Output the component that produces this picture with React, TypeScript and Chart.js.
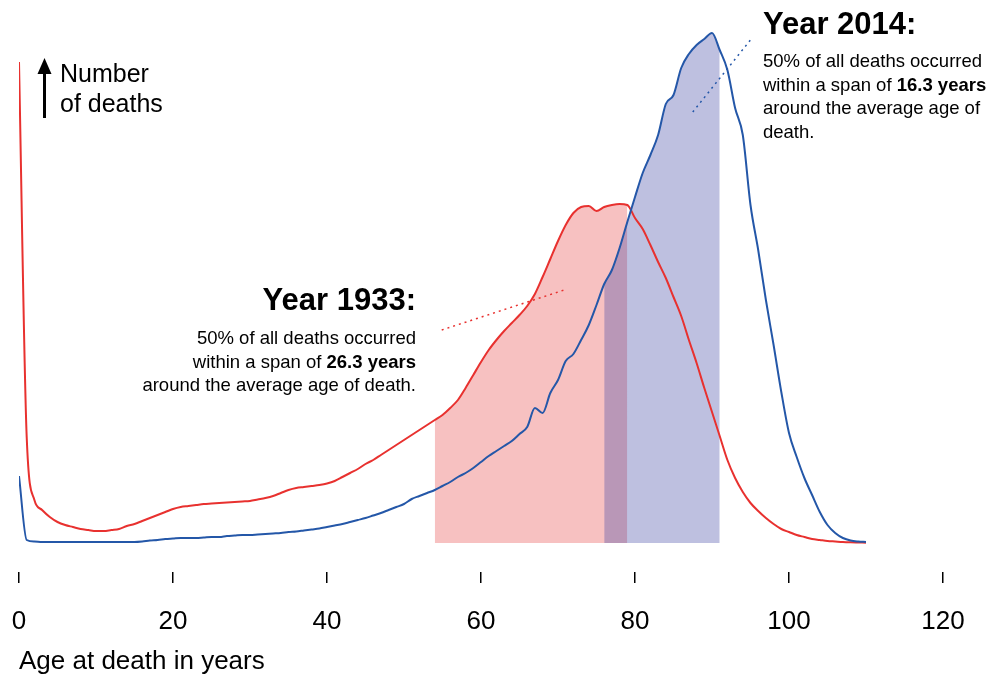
import React, { useEffect, useRef } from "react";
import { Chart, registerables } from "chart.js";

Chart.register(...registerables);

// ---- data (relative number of deaths by age) ----
const ages = [
  0, 1, 2, 3, 4, 5, 6, 7, 8, 9, 10, 11, 12, 13, 14, 15, 16, 17, 18, 19,
  20, 21, 22, 23, 24, 25, 26, 27, 28, 29, 30, 31, 32, 33, 34, 35, 36, 37, 38, 39,
  40, 41, 42, 43, 44, 45, 46, 47, 48, 49, 50, 51, 52, 53, 54, 55, 56, 57, 58, 59,
  60, 61, 62, 63, 64, 65, 66, 67, 68, 69, 70, 71, 72, 73, 74, 75, 76, 77, 78, 79,
  80, 81, 82, 83, 84, 85, 86, 87, 88, 89, 90, 91, 92, 93, 94, 95, 96, 97, 98, 99,
  100, 101, 102, 103, 104, 105, 106, 107, 108, 109, 110,
];

const deaths1933 = [
  481, 106, 43, 33, 26, 21, 18, 16, 14, 13, 12, 12, 13, 14, 17, 19, 22, 25, 28, 31,
  34, 36, 37, 38, 39, 39.5, 40, 40.5, 41, 41.5, 42, 43.5, 45, 47, 50, 53, 55, 56, 57, 58,
  59.5, 62, 66, 70, 74, 79, 83, 88, 93, 98, 103, 108, 113, 118, 123, 128, 135, 143, 155, 168,
  181, 193, 203, 212, 220, 228, 237, 249, 266, 284, 302, 318, 330, 336, 337, 332, 336, 338, 339, 338,
  325, 314, 298, 281, 265, 246, 227, 203, 180, 155, 131, 107, 83, 65, 51, 40, 32, 25, 19, 14,
  11, 8, 6, 4, 3, 2, 1.5, 1, 0.7, 0.5, 0.3,
];

const deaths2014 = [
  67, 3, 1.5, 1, 1, 1, 1, 1, 1, 1, 1, 1, 1, 1, 1, 1, 1.5, 2.5, 3, 4,
  4.5, 5, 5, 5, 5.5, 6, 6, 7, 7.5, 8, 8, 8.5, 9, 9.5, 10, 11, 11.5, 12.5, 13.5, 14.5,
  16, 17.5, 19, 21, 23, 25, 27.5, 30, 33, 36, 39, 44, 47, 50, 53, 57, 61, 66, 70, 75,
  81, 87, 92, 97, 102, 109, 116, 135, 130, 150, 163, 182, 189, 203, 218, 238, 259, 273, 295, 321,
  346, 370, 388, 408, 439, 448, 475, 489, 498, 504, 510, 493, 473, 435, 408, 338, 293, 243, 198, 151,
  110, 86, 65, 48, 31, 18, 10, 5, 2.5, 1.5, 1,
];

// central 50% spans (age from, age to)
const span1933 = [54, 79];
const span2014 = [76, 91];

const xTicks = [0, 20, 40, 60, 80, 100, 120];

// dotted leader lines [age, value]
const leader1933 = [[54.9, 213], [71.2, 254]];
const leader2014 = [[87.5, 431], [95.3, 506]];

const FONT = '"Liberation Sans", Arial, Helvetica, sans-serif';
const RED = "#e8312f";
const BLUE = "#2457a8";

const toPoints = (vals: number[]) => ages.map((a, i) => ({ x: a, y: vals[i] }));
const spanPoints = (vals: number[], span: number[]) =>
  ages
    .map((a, i) => ({ x: a, y: vals[i] }))
    .filter((p) => p.x >= span[0] && p.x <= span[1]);

const decorPlugin = {
  id: "decor",
  afterDatasetsDraw(chart: any) {
    const { ctx, scales } = chart;
    const x = scales.x;
    const y = scales.y;
    const drawLeader = (pts: number[][], color: string) => {
      ctx.save();
      ctx.strokeStyle = color;
      ctx.lineWidth = 1.5;
      ctx.setLineDash([2, 4]);
      ctx.beginPath();
      ctx.moveTo(x.getPixelForValue(pts[0][0]), y.getPixelForValue(pts[0][1]));
      ctx.lineTo(x.getPixelForValue(pts[1][0]), y.getPixelForValue(pts[1][1]));
      ctx.stroke();
      ctx.restore();
    };
    drawLeader(leader1933, RED);
    drawLeader(leader2014, BLUE);
  },
  afterDraw(chart: any) {
    const { ctx } = chart;
    ctx.save();
    ctx.strokeStyle = "#000";
    ctx.fillStyle = "#000";
    ctx.lineWidth = 3;
    ctx.beginPath();
    ctx.moveTo(44.5, 118);
    ctx.lineTo(44.5, 70);
    ctx.stroke();
    ctx.beginPath();
    ctx.moveTo(37.5, 74);
    ctx.lineTo(51.5, 74);
    ctx.lineTo(44.5, 58);
    ctx.closePath();
    ctx.fill();
    ctx.restore();
  },
};

export default function App() {
  const canvasRef = useRef<HTMLCanvasElement | null>(null);

  useEffect(() => {
    const canvas = canvasRef.current;
    if (!canvas) return;
    const chart = new Chart(canvas, {
      type: "line",
      data: {
        datasets: [
          {
            label: "2014",
            data: toPoints(deaths2014),
            borderColor: BLUE,
            borderWidth: 2,
            pointRadius: 0,
            cubicInterpolationMode: "monotone",
            fill: false,
          },
          {
            label: "1933",
            data: toPoints(deaths1933),
            borderColor: RED,
            borderWidth: 2,
            pointRadius: 0,
            cubicInterpolationMode: "monotone",
            fill: false,
          },
          {
            label: "2014 span",
            data: spanPoints(deaths2014, span2014),
            borderColor: "rgba(0,0,0,0)",
            borderWidth: 0,
            pointRadius: 0,
            cubicInterpolationMode: "monotone",
            backgroundColor: "rgba(69,75,166,0.35)",
            fill: "origin",
          },
          {
            label: "1933 span",
            data: spanPoints(deaths1933, span1933),
            borderColor: "rgba(0,0,0,0)",
            borderWidth: 0,
            pointRadius: 0,
            cubicInterpolationMode: "monotone",
            backgroundColor: "rgba(230,50,50,0.3)",
            fill: "origin",
          },
        ],
      },
      options: {
        animation: false,
        responsive: false,
        events: [],
        layout: { padding: { left: 19, right: 59, top: 0, bottom: 0 } },
        plugins: {
          legend: { display: false },
          tooltip: { enabled: false },
        },
        scales: {
          x: {
            type: "linear",
            min: 0,
            max: 120,
            afterBuildTicks: (scale: any) => {
              scale.ticks = xTicks.map((v) => ({ value: v }));
            },
            afterFit: (scale: any) => {
              scale.height = 105;
              scale.paddingLeft = 0;
              scale.paddingRight = 0;
            },
            border: { display: false },
            grid: {
              display: true,
              drawOnChartArea: false,
              drawTicks: true,
              tickLength: 11,
              color: "#000",
              lineWidth: 1.5,
            },
            ticks: {
              padding: 23,
              color: "#000",
              maxRotation: 0,
              font: { family: FONT, size: 26 },
            },
            title: {
              display: true,
              text: "Age at death in years",
              align: "start",
              color: "#000",
              padding: { top: 0, bottom: 0 },
              font: { family: FONT, size: 26 },
            },
          },
          y: {
            type: "linear",
            display: false,
            min: -29,
            max: 543,
          },
        },
      },
      plugins: [decorPlugin],
    } as any);
    return () => chart.destroy();
  }, []);

  const small: React.CSSProperties = {
    position: "absolute",
    fontFamily: FONT,
    fontSize: 18.5,
    lineHeight: "23.5px",
    color: "#000",
    whiteSpace: "nowrap",
  };
  const big: React.CSSProperties = {
    position: "absolute",
    fontFamily: FONT,
    fontSize: 31,
    fontWeight: "bold",
    lineHeight: "36px",
    color: "#000",
    whiteSpace: "nowrap",
  };

  return (
    <div style={{ position: "absolute", left: 0, top: 0, width: 1002, height: 677, background: "#fff" }}>
      <canvas ref={canvasRef} width={1002} height={677} style={{ display: "block" }} />
      <div
        style={{
          position: "absolute",
          left: 60,
          top: 58,
          fontFamily: FONT,
          fontSize: 25,
          lineHeight: "30px",
          color: "#000",
        }}
      >
        Number
        <br />
        of deaths
      </div>
      <div style={{ ...big, left: 116, width: 300, top: 282, textAlign: "right" }}>Year 1933:</div>
      <div style={{ ...small, left: 16, width: 400, top: 326, textAlign: "right" }}>
        50% of all deaths occurred
        <br />
        within a span of <b>26.3 years</b>
        <br />
        around the average age of death.
      </div>
      <div style={{ ...big, left: 763, top: 6 }}>Year 2014:</div>
      <div style={{ ...small, left: 763, top: 49 }}>
        50% of all deaths occurred
        <br />
        within a span of <b>16.3 years</b>
        <br />
        around the average age of
        <br />
        death.
      </div>
    </div>
  );
}
